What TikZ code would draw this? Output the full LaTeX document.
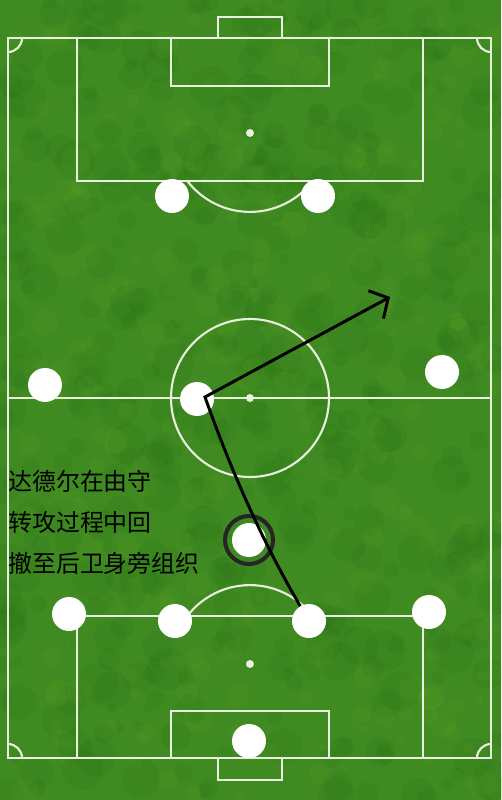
\documentclass[tikz,border=0pt]{standalone}
\usepackage{fontspec}
\newfontfamily\cjk{Noto Sans CJK SC}
\usetikzlibrary{arrows.meta, positioning}
\definecolor{grass}{RGB}{64,138,34}
\definecolor{chalk}{RGB}{232,240,222}

\begin{document}
\begin{tikzpicture}[
    x=0.02cm, y=-0.02cm,
    pitchline/.style={draw=chalk, line width=1.2pt},
    player/.style={circle, fill=white, minimum size=0.68cm, inner sep=0pt},
    ring/.style={circle, draw=black!85, line width=2.3pt, minimum size=0.96cm, inner sep=0pt},
    arrow/.style={-{Straight Barb[length=8pt, width=18pt]}, line width=1.7pt, color=black},
    note/.style={font=\cjk\fontsize{13.6}{16}\selectfont, inner sep=0pt, anchor=west},
    node distance=0.82cm
]

\useasboundingbox (0,0) rectangle (501,800);
\fill[grass] (0,0) rectangle (501,800);

% Grass mottling
\pgfmathsetseed{11}
\foreach \i in {1,...,420}{
    \pgfmathsetmacro{\px}{rnd*501}
    \pgfmathsetmacro{\py}{rnd*800}
    \pgfmathsetmacro{\pr}{5+rnd*16}
    \fill[black!70!green, opacity=0.06] (\px,\py) circle[radius=\pr];
}
\foreach \i in {1,...,260}{
    \pgfmathsetmacro{\px}{rnd*501}
    \pgfmathsetmacro{\py}{rnd*800}
    \pgfmathsetmacro{\pr}{4+rnd*10}
    \fill[yellow!60!green, opacity=0.05] (\px,\py) circle[radius=\pr];
}

% Pitch outline and halfway line
\draw[pitchline] (8,38) rectangle (491,758);
\draw[pitchline] (8,398) -- (491,398);
\draw[pitchline] (250,398) circle[radius=79];
\fill[chalk] (250,398) circle[radius=4];
\draw[pitchline] (22,38) arc[start angle=0, end angle=90, radius=14];
\draw[pitchline] (477,38) arc[start angle=180, end angle=90, radius=14];
\draw[pitchline] (22,758) arc[start angle=0, end angle=-90, radius=14];
\draw[pitchline] (477,758) arc[start angle=180, end angle=270, radius=14];

% Top end
\draw[pitchline] (218,38) -- (218,17) -- (282,17) -- (282,38);
\draw[pitchline] (77,38) rectangle (423,181);
\draw[pitchline] (171,38) rectangle (329,86);
\fill[chalk] (250,133) circle[radius=4];
\draw[pitchline] (312.7,181) arc[start angle=37.5, end angle=142.5, radius=79];

% Bottom end
\draw[pitchline] (218,758) -- (218,780) -- (282,780) -- (282,758);
\draw[pitchline] (77,758) rectangle (423,616);
\draw[pitchline] (171,758) rectangle (329,711);
\fill[chalk] (250,664) circle[radius=4];
\draw[pitchline] (187.3,616) arc[start angle=-142.5, end angle=-37.5, radius=79];

% Players
\node[player] (lstrike) at (172,196) {};
\node[player] (rstrike) at (318,196) {};
\node[player] (lwing) at (45,385) {};
\node[player] (pivot) at (197,399) {};
\node[player] (rwing) at (442,372) {};
\node[player] (ringed) at (249,540) {};
\node[player] (lback) at (69,614) {};
\node[player] (lcback) at (175,621) {};
\node[player] (rcback) at (309,621) {};
\node[player] (rback) at (429,612) {};
\node[player] (keeper) at (249,741) {};
\node[ring] (halo) at (ringed) {};

% Notes
\node[note] (note1) at (8,481) {达德尔在由守};
\node[note, below=of note1.west, anchor=west] (note2) {转攻过程中回};
\node[note, below=of note2.west, anchor=west] (note3) {撤至后卫身旁组织};

% Run of the ball
\coordinate (turn) at (205,397);
\coordinate (target) at (390,297);
\draw[arrow] (rcback) .. controls (262,541) and (230,468) .. (turn) -- (target);

\end{tikzpicture}
\end{document}
